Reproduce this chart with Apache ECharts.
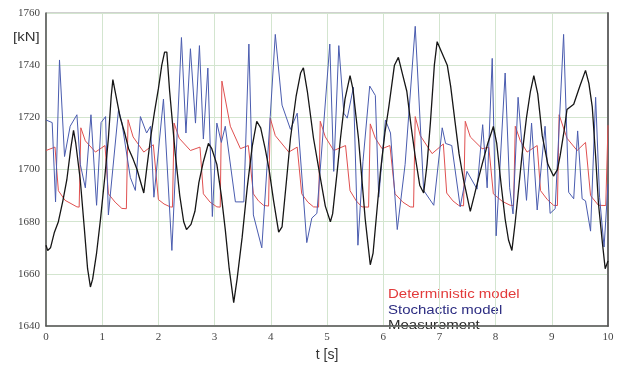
<!DOCTYPE html>
<html>
<head>
<meta charset="utf-8">
<script src="https://cdn.jsdelivr.net/npm/echarts@6/dist/echarts.min.js"></script>
<style>
  html, body { margin: 0; padding: 0; background: #fff; }
  #chart { width: 622px; height: 367px; }
</style>
</head>
<body>
<div id="chart"></div>
<script>
// axis ticks
const xTicks = [0, 1, 2, 3, 4, 5, 6, 7, 8, 9, 10];
const yTicks = [1640, 1660, 1680, 1700, 1720, 1740, 1760];

// deterministic model [t, kN]
const deterministic = [
  [0.00, 1707.3], [0.16, 1708.6], [0.22, 1691.9], [0.34, 1688.2], [0.55, 1685.7],
  [0.59, 1685.6], [0.62, 1716.0], [0.70, 1711.0], [0.88, 1706.7], [1.05, 1709.2],
  [1.11, 1690.7], [1.23, 1687.5], [1.35, 1685.1],
  [1.43, 1685.0], [1.46, 1719.1], [1.55, 1712.5], [1.74, 1706.7], [1.91, 1709.5],
  [2.00, 1688.5], [2.10, 1686.8], [2.21, 1685.7],
  [2.25, 1685.6], [2.28, 1717.8], [2.37, 1712.0], [2.57, 1707.3], [2.74, 1708.6],
  [2.80, 1690.7], [2.92, 1687.5], [3.04, 1685.7],
  [3.10, 1685.6], [3.13, 1733.9], [3.28, 1716.6], [3.46, 1708.0], [3.60, 1709.2],
  [3.69, 1690.7], [3.78, 1688.0], [3.87, 1686.3],
  [3.96, 1686.0], [3.99, 1719.7], [4.08, 1713.0], [4.32, 1706.7], [4.47, 1708.6],
  [4.55, 1690.7], [4.66, 1687.5], [4.76, 1685.7],
  [4.85, 1685.6], [4.88, 1718.5], [4.97, 1712.5], [5.12, 1707.3], [5.33, 1709.2],
  [5.41, 1691.9], [5.52, 1688.0], [5.62, 1685.7],
  [5.74, 1685.6], [5.77, 1717.5], [5.86, 1712.0], [5.98, 1708.0], [6.12, 1709.2],
  [6.21, 1690.7], [6.35, 1687.5], [6.48, 1685.7],
  [6.54, 1685.6], [6.57, 1720.3], [6.66, 1713.0], [6.87, 1706.1], [7.07, 1709.8],
  [7.13, 1691.0], [7.24, 1688.0], [7.34, 1686.3],
  [7.43, 1686.1], [7.46, 1718.5], [7.55, 1712.5], [7.76, 1708.0], [7.88, 1708.5],
  [7.96, 1690.7], [8.12, 1687.8], [8.26, 1686.3],
  [8.32, 1686.2], [8.35, 1716.6], [8.44, 1711.0], [8.56, 1706.7], [8.74, 1709.2],
  [8.80, 1691.9], [8.92, 1688.5], [9.03, 1686.3],
  [9.10, 1686.2], [9.13, 1721.0], [9.27, 1712.0], [9.45, 1707.3], [9.60, 1710.4],
  [9.69, 1690.0], [9.83, 1686.3], [9.96, 1686.2],
  [10.00, 1717.0]
];

// stochastic model [t, kN]
const stochastic = [
  [0.00, 1719.0], [0.11, 1718.0], [0.17, 1687.6], [0.24, 1742.0], [0.33, 1705.0],
  [0.43, 1716.6], [0.55, 1721.0], [0.61, 1702.0], [0.70, 1693.0], [0.80, 1721.0],
  [0.90, 1686.3], [0.98, 1718.0], [1.06, 1720.3], [1.11, 1682.6], [1.29, 1722.8],
  [1.35, 1718.0], [1.50, 1697.0], [1.59, 1692.0], [1.68, 1720.3], [1.79, 1714.0],
  [1.86, 1716.6], [1.92, 1689.4], [2.09, 1727.0], [2.24, 1669.0], [2.41, 1750.6],
  [2.49, 1714.0], [2.57, 1746.3], [2.66, 1717.8], [2.73, 1747.5], [2.80, 1711.7],
  [2.88, 1738.9], [2.96, 1682.0], [3.04, 1717.8], [3.12, 1710.4], [3.19, 1716.6],
  [3.37, 1687.6], [3.52, 1687.6], [3.61, 1748.1], [3.69, 1682.6], [3.84, 1670.0],
  [3.99, 1720.3], [4.08, 1751.8], [4.20, 1724.7], [4.35, 1715.4], [4.47, 1721.6],
  [4.64, 1672.0], [4.73, 1681.4], [4.82, 1683.2], [5.05, 1748.1], [5.12, 1699.3],
  [5.21, 1747.5], [5.30, 1721.6], [5.36, 1719.7], [5.47, 1731.5], [5.55, 1671.0],
  [5.64, 1703.0], [5.76, 1732.0], [5.86, 1728.4], [5.92, 1689.4], [6.04, 1719.0],
  [6.13, 1714.0], [6.25, 1677.0], [6.39, 1702.0], [6.57, 1754.9], [6.72, 1692.0],
  [6.90, 1686.3], [7.05, 1716.0], [7.11, 1710.0], [7.22, 1709.2], [7.37, 1685.7],
  [7.49, 1699.3], [7.67, 1692.5], [7.77, 1717.2], [7.85, 1693.0], [7.94, 1742.6],
  [8.01, 1674.6], [8.17, 1737.0], [8.25, 1693.0], [8.31, 1683.0], [8.40, 1727.7],
  [8.55, 1688.2], [8.64, 1717.8], [8.74, 1684.5], [8.88, 1716.6], [8.97, 1683.2],
  [9.06, 1685.0], [9.21, 1751.8], [9.30, 1691.3], [9.39, 1688.8], [9.46, 1714.8],
  [9.54, 1688.8], [9.60, 1688.0], [9.69, 1676.4], [9.78, 1727.7], [9.85, 1689.4],
  [9.93, 1670.3], [10.00, 1694.4]
];

// measurement [t, kN]
const measurement = [
  [0.00, 1671], [0.03, 1669], [0.08, 1670], [0.15, 1676], [0.22, 1680], [0.30, 1688],
  [0.37, 1696], [0.44, 1708], [0.49, 1715], [0.53, 1710], [0.61, 1696], [0.68, 1678],
  [0.74, 1662], [0.79, 1655], [0.83, 1658], [0.90, 1668], [0.97, 1681], [1.05, 1698],
  [1.11, 1712], [1.16, 1728], [1.19, 1734.5], [1.23, 1730], [1.32, 1720], [1.40, 1714],
  [1.47, 1708], [1.55, 1704], [1.62, 1700], [1.70, 1694], [1.74, 1691], [1.79, 1700],
  [1.86, 1712], [1.93, 1722], [2.00, 1731], [2.06, 1740], [2.11, 1745], [2.15, 1745],
  [2.20, 1730], [2.30, 1706], [2.38, 1690], [2.45, 1680], [2.50, 1677], [2.58, 1679],
  [2.65, 1684], [2.72, 1695], [2.80, 1703], [2.89, 1710], [2.95, 1708], [3.04, 1702],
  [3.12, 1690], [3.19, 1677], [3.26, 1662], [3.34, 1649], [3.40, 1658], [3.49, 1674],
  [3.58, 1693], [3.67, 1709], [3.75, 1718.5], [3.82, 1716], [3.90, 1708], [3.97, 1700],
  [4.05, 1688], [4.14, 1676], [4.20, 1678], [4.28, 1696], [4.35, 1712], [4.45, 1728],
  [4.53, 1737], [4.58, 1739], [4.65, 1730], [4.76, 1712], [4.88, 1697], [4.97, 1686],
  [5.06, 1680], [5.10, 1683], [5.18, 1699], [5.24, 1712], [5.32, 1727], [5.41, 1736],
  [5.46, 1731], [5.56, 1712], [5.68, 1681], [5.77, 1663.5], [5.82, 1668], [5.95, 1699],
  [6.03, 1714], [6.10, 1724], [6.20, 1740], [6.27, 1743], [6.35, 1736], [6.42, 1730],
  [6.50, 1716], [6.57, 1705], [6.65, 1694], [6.72, 1691], [6.78, 1702], [6.84, 1718],
  [6.91, 1740], [6.96, 1749], [7.04, 1745], [7.14, 1740], [7.20, 1732], [7.28, 1718],
  [7.35, 1706], [7.43, 1696], [7.55, 1684], [7.62, 1690], [7.70, 1697], [7.76, 1702],
  [7.86, 1710], [7.96, 1716.5], [8.02, 1710], [8.10, 1694], [8.17, 1681], [8.23, 1673],
  [8.29, 1669], [8.35, 1680], [8.47, 1705.5], [8.55, 1720], [8.62, 1730], [8.68, 1736],
  [8.75, 1729], [8.83, 1713], [8.93, 1702], [9.03, 1697.5], [9.10, 1700], [9.15, 1705.5],
  [9.22, 1715], [9.27, 1723], [9.39, 1725], [9.50, 1732], [9.60, 1738], [9.66, 1733],
  [9.72, 1724], [9.78, 1705], [9.83, 1687], [9.90, 1672], [9.95, 1662], [10.00, 1665]
];

const chart = echarts.init(document.getElementById('chart'), null, { renderer: 'canvas' });

const serif = '"Liberation Serif", "DejaVu Serif", serif';
const sans = '"Liberation Sans", Arial, sans-serif';

// legend-like labels, drawn as text (the original has no icons)
const labels = [
  { text: 'Deterministic model', color: '#e23a3a', y: 294.5 },
  { text: 'Stochactic model', color: '#2d2d82', y: 310.5 },
  { text: 'Measurement', color: '#2a2a2a', y: 326 }
];

const option = {
  backgroundColor: '#fff',
  animation: false,
  grid: {
    left: 46, right: 14, top: 13, bottom: 30,
    show: true, borderColor: '#a0a0a0', borderWidth: 1
  },
  xAxis: {
    type: 'value',
    min: xTicks[0],
    max: xTicks[xTicks.length - 1],
    interval: 1,
    name: 't [s]',
    nameLocation: 'middle',
    nameGap: 19,
    nameTextStyle: { fontFamily: sans, fontSize: 14, color: '#333' },
    axisLine: { show: true, onZero: false, lineStyle: { color: '#555', width: 1.5 } },
    axisTick: { show: false },
    axisLabel: { fontFamily: serif, fontSize: 11, color: '#444', margin: 6 },
    splitLine: { show: true, lineStyle: { color: '#d3e5cf', width: 1 } }
  },
  yAxis: [
    {
      type: 'value',
      min: yTicks[0],
      max: yTicks[yTicks.length - 1],
      interval: 20,
      axisLine: { show: true, lineStyle: { color: '#555', width: 1.5 } },
      axisTick: { show: false },
      axisLabel: { fontFamily: serif, fontSize: 11, color: '#444', margin: 6, formatter: v => String(v) },
      splitLine: { show: true, lineStyle: { color: '#d3e5cf', width: 1 } }
    },
    {
      type: 'value',
      position: 'right',
      min: yTicks[0],
      max: yTicks[yTicks.length - 1],
      interval: 20,
      axisLine: { show: true, lineStyle: { color: '#6a6a6a', width: 2 } },
      axisTick: { show: false },
      axisLabel: { show: false },
      splitLine: { show: false }
    }
  ],
  series: [
    {
      name: 'Deterministic model',
      type: 'line',
      data: deterministic,
      showSymbol: false,
      lineStyle: { color: '#e05050', width: 1 },
      z: 2
    },
    {
      name: 'Stochactic model',
      type: 'line',
      data: stochastic,
      showSymbol: false,
      lineStyle: { color: '#4a5caf', width: 1 },
      z: 3
    },
    {
      name: 'Measurement',
      type: 'line',
      data: measurement,
      showSymbol: false,
      lineStyle: { color: '#161616', width: 1.3 },
      z: 4
    }
  ],
  graphic: [
    {
      type: 'text', x: 13, y: 37.5, scaleX: 1.15,
      style: { text: '[kN]', fill: '#333', font: '13px ' + sans, align: 'left', verticalAlign: 'middle' }
    }
  ].concat(labels.map(l => ({
    type: 'text', x: 388, y: l.y, scaleX: 1.2,
    style: { text: l.text, fill: l.color, font: '12.5px ' + sans, align: 'left', verticalAlign: 'middle' }
  })))
};

chart.setOption(option);
</script>
</body>
</html>
